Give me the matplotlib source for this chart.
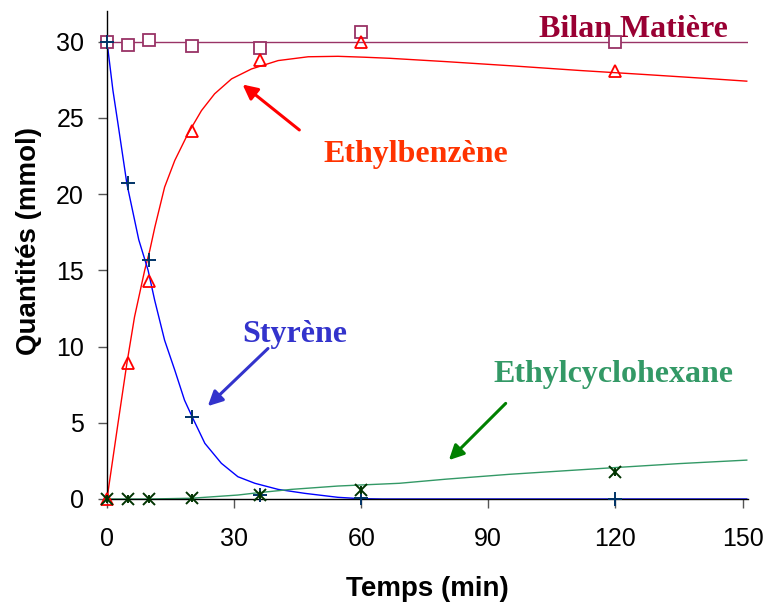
import matplotlib
matplotlib.use("Agg")
import matplotlib.pyplot as plt

# ---- measured data points ----
t_pts = [0, 5, 10, 20, 36, 60, 120]
bilan = [30.0, 29.75, 30.1, 29.7, 29.6, 30.6, 30.0]
ethylbenzene = [0.0, 8.95, 14.3, 24.1, 28.8, 30.0, 28.05]
styrene = [30.0, 20.75, 15.65, 5.4, 0.28, 0.05, 0.0]
ethylcyclohexane = [0.0, 0.0, 0.0, 0.05, 0.26, 0.58, 1.8]

# ---- model curves ----
sty_t = [0, 1.4, 2.6, 4.7, 7.5, 9.7, 11.26, 13.6, 16.0, 18.3, 20.1, 23.1, 27.0, 30.9, 34.9, 40.4, 46.7, 54.5, 60, 65, 151]
sty_v = [30, 26.8, 24.6, 20.67, 17.0, 15.0, 13.03, 10.41, 8.45, 6.48, 5.39, 3.65, 2.34, 1.46, 1.03, 0.63, 0.37, 0.11, 0.02, 0.0, 0.0]
eb_t = [0, 2.6, 4.7, 6.5, 8.9, 10.1, 11.3, 13.6, 16.0, 19.1, 22.3, 25.4, 29.4, 34.1, 40.4, 47.5, 54.5, 60.8, 66.7, 80.1, 95.8, 111.6, 127.3, 143, 151]
eb_v = [0, 4.96, 8.9, 11.94, 15.0, 16.3, 17.83, 20.45, 22.2, 23.95, 25.47, 26.57, 27.55, 28.2, 28.75, 29.0, 29.03, 28.97, 28.9, 28.68, 28.4, 28.1, 27.83, 27.55, 27.4]
ech_t = [0, 10, 19.9, 30.9, 35.6, 43.5, 54.5, 60, 69, 80, 95, 119.3, 135, 151]
ech_v = [0, 0, 0.05, 0.26, 0.41, 0.63, 0.85, 0.92, 1.03, 1.3, 1.62, 2.05, 2.32, 2.55]
bil_t = [0, 151]
bil_v = [30, 30]

x_ticks = [0, 30, 60, 90, 120, 150]
y_ticks = [0, 5, 10, 15, 20, 25, 30]

fig = plt.figure(figsize=(7.68, 6.02), dpi=100)
ax = fig.add_axes([0.1393, 0.1711, 0.974 - 0.1393, 0.9817 - 0.1711])

c_bil = "#993366"
c_eb = "#FF0000"
c_sty = "#0000FF"
c_ech = "#339966"

ax.plot(bil_t, bil_v, color=c_bil, lw=1.0, zorder=2)
ax.plot(eb_t, eb_v, color=c_eb, lw=1.0, zorder=2)
ax.plot(sty_t, sty_v, color=c_sty, lw=1.0, zorder=2)
ax.plot(ech_t, ech_v, color=c_ech, lw=1.0, zorder=2)

ax.plot(t_pts, bilan, ls="none", marker="s", ms=8, mfc="white", mec=c_bil, mew=1.3, zorder=4, clip_on=False)
ax.plot(t_pts, ethylbenzene, ls="none", marker="^", ms=9, mfc="none", mec=c_eb, mew=1.3, zorder=4, clip_on=False)
ax.plot(t_pts, styrene, ls="none", marker="+", ms=10, mec="#003366", mew=1.4, zorder=5, clip_on=False)
ax.plot(t_pts, ethylcyclohexane, ls="none", marker="x", ms=8, mec="#003300", mew=1.4, zorder=5, clip_on=False)
ax.plot(t_pts, ethylcyclohexane, ls="none", marker="|", ms=6, mec="#003300", mew=1.4, zorder=5, clip_on=False)

ax.set_xlim(0, 151.3)
ax.set_ylim(0, 32)
ax.set_xticks(x_ticks)
ax.set_yticks(y_ticks)
for s in ["top", "right"]:
    ax.spines[s].set_visible(False)
for s in ["left", "bottom"]:
    ax.spines[s].set_color("#000000")
    ax.spines[s].set_linewidth(1.0)
ax.tick_params(direction="out", length=6.5, width=1.0, color="#555555",
               labelsize=18, pad=10)
ax.tick_params(axis="x", pad=14)
for lab in ax.get_xticklabels() + ax.get_yticklabels():
    lab.set_fontfamily("Liberation Sans")

ax.set_xlabel("Temps (min)", fontsize=20, fontweight="bold", family="Liberation Sans", labelpad=17.5)
ax.set_ylabel("Quantités (mmol)", fontsize=20, fontweight="bold", family="Liberation Sans")
ax.yaxis.set_label_coords(-0.1014, 0.528)

tf = dict(family="Liberation Serif", fontweight="bold", fontsize=23, ha="center", va="baseline")
ax.text(124.2, 30.32, "Bilan Matière", color="#990033", **tf)
ax.text(73.0, 22.13, "Ethylbenzène", color="#FF3300", **tf)
ax.text(44.4, 10.3, "Styrène", color="#3333CC", **tf)
ax.text(119.5, 7.68, "Ethylcyclohexane", color="#339966", **tf)

def arrow(tail, head, color):
    ax.annotate("", xy=head, xytext=tail,
                arrowprops=dict(arrowstyle="-|>", color=color, lw=2.2,
                                mutation_scale=22, shrinkA=0, shrinkB=0))

arrow((45.4, 24.2), (32.0, 27.18), "#FF0000")
arrow((38.0, 9.87), (23.8, 6.09), "#3333CC")
arrow((94.1, 6.27), (80.7, 2.55), "#008000")

fig.savefig("out.png", dpi=100)
